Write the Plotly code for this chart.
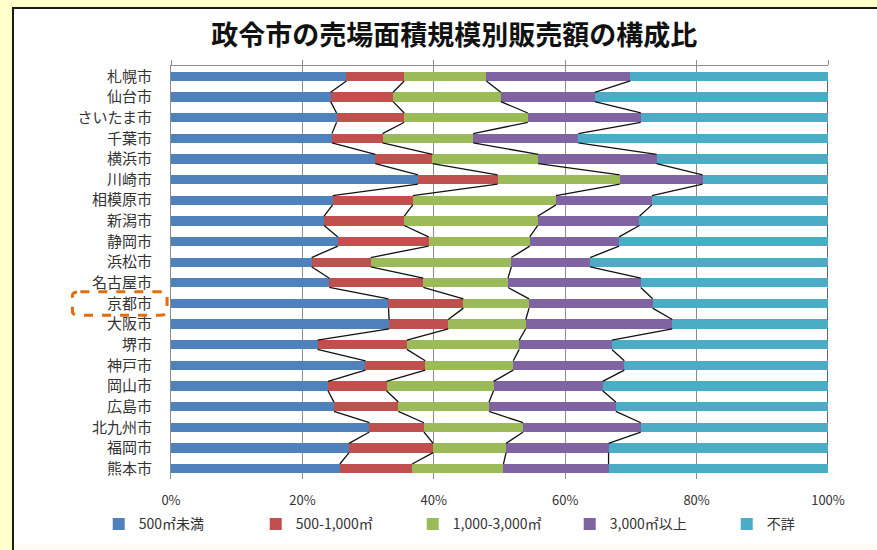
import numpy as np
import plotly.graph_objects as go

cities = ["札幌市", "仙台市", "さいたま市", "千葉市", "横浜市", "川崎市", "相模原市", "新潟市",
          "静岡市", "浜松市", "名古屋市", "京都市", "大阪市", "堺市", "神戸市", "岡山市",
          "広島市", "北九州市", "福岡市", "熊本市"]

series_names = ["500㎡未満", "500-1,000㎡", "1,000-3,000㎡", "3,000㎡以上", "不詳"]

under_500 = [26.7, 24.3, 25.2, 24.5, 31.1, 37.6, 24.6, 23.3, 25.4, 21.4,
             24.1, 33.1, 33.2, 22.3, 29.6, 23.9, 24.8, 30.2, 27.1, 25.7]
s500_1000 = [8.8, 9.5, 10.3, 7.7, 8.7, 12.1, 12.2, 12.2, 13.8, 9.0,
             14.3, 11.4, 9.0, 13.6, 9.1, 8.9, 9.8, 8.3, 12.8, 11.0]
s1000_3000 = [12.5, 16.4, 18.8, 13.8, 16.1, 18.6, 21.8, 20.3, 15.4, 21.4,
              12.9, 10.0, 11.8, 17.1, 13.4, 16.3, 13.8, 15.1, 11.1, 13.9]
over_3000 = [21.9, 14.3, 17.2, 16.0, 18.0, 12.6, 14.6, 15.5, 13.6, 12.0,
             20.2, 18.8, 22.3, 14.1, 16.9, 16.6, 19.3, 17.9, 15.6, 16.0]
unknown = [30.1, 35.5, 28.5, 38.0, 26.1, 19.1, 26.8, 28.7, 31.8, 36.2,
           28.5, 26.7, 23.7, 32.9, 31.0, 34.3, 32.3, 28.5, 33.4, 33.4]

x_ticks = [0, 20, 40, 60, 80, 100]
highlight_city = "京都市"

colors = ["#4F81BD", "#C0504D", "#9BBB59", "#8064A2", "#4BACC6"]
FONT = "Noto Sans CJK JP"
BAR_W = 0.45

series = [under_500, s500_1000, s1000_3000, over_3000, unknown]
ypos = list(range(len(cities)))

fig = go.Figure()
for name, vals, col in zip(series_names, series, colors):
    fig.add_trace(go.Bar(
        y=ypos, x=vals, name=name, orientation="h", width=BAR_W,
        marker=dict(color=col, line=dict(width=0)),
    ))

# Series lines connecting the segment boundaries between adjacent bars
cum = np.cumsum(np.array(series), axis=0)
for k in range(cum.shape[0]):
    xs, ys = [], []
    for i in range(len(cities) - 1):
        xs += [cum[k][i], cum[k][i + 1], None]
        ys += [i + BAR_W / 2, i + 1 - BAR_W / 2, None]
    fig.add_trace(go.Scatter(
        x=xs, y=ys, mode="lines", xaxis="x2", yaxis="y",
        line=dict(color="#111111", width=1.3), showlegend=False, hoverinfo="skip",
    ))

# Highlight box around the emphasised city
hi = cities.index(highlight_city)
x0, x1 = -0.150, -0.006
y0, y1 = hi - 0.57, hi + 0.57
r = 0.012
ry = 0.17
path = (f"M {x0 + r} {y0} L {x1 - r} {y0} Q {x1} {y0} {x1} {y0 + ry} "
        f"L {x1} {y1 - ry} Q {x1} {y1} {x1 - r} {y1} L {x0 + r} {y1} "
        f"Q {x0} {y1} {x0} {y1 - ry} L {x0} {y0 + ry} Q {x0} {y0} {x0 + r} {y0} Z")

fig.update_layout(
    width=877, height=550,
    margin=dict(l=171, r=49, t=66, b=71, autoexpand=False),
    paper_bgcolor="#FFFFCC",
    plot_bgcolor="rgba(0,0,0,0)",
    barmode="stack",
    bargap=0,
    font=dict(family=FONT, color="#222222"),
    title=dict(text="政令市の売場面積規模別販売額の構成比", x=0.518, xanchor="center",
               y=0.935, yanchor="middle",
               font=dict(family=FONT, size=27, color="#111111", weight="bold")),
    xaxis=dict(range=[0, 100], tickvals=x_ticks, ticktext=[f"{v}%" for v in x_ticks],
               showgrid=True, gridcolor="#8C8C8C", gridwidth=1, zeroline=False,
               showline=False, ticks="", ticklabelstandoff=12, automargin=False,
               tickfont=dict(size=13, color="#333333", family=FONT)),
    xaxis2=dict(overlaying="x", matches="x", side="top", showline=True, linecolor="#8C8C8C",
                linewidth=1, ticks="outside", ticklen=5, tickcolor="#8C8C8C", automargin=False,
                tickvals=x_ticks, showticklabels=False, showgrid=False, zeroline=False),
    yaxis=dict(range=[len(cities) - 0.5, -0.5], tickvals=ypos, ticktext=cities,
               showline=True, linecolor="#8C8C8C", linewidth=1, showgrid=False,
               zeroline=False, ticks="", ticklabelstandoff=15, automargin=False,
               tickfont=dict(size=15, color="#333333", family=FONT)),
    legend=dict(orientation="h", x=-0.11, xanchor="left", y=-0.11, yanchor="middle",
                font=dict(size=14, color="#333333", family=FONT), bgcolor="rgba(0,0,0,0)",
                traceorder="normal", itemwidth=30, entrywidth=112),
    shapes=[
        dict(type="rect", xref="paper", yref="paper", x0=-0.2405, x1=1.09, y0=-0.25, y1=1.1404,
             fillcolor="white", line=dict(color="#1a1a1a", width=2), layer="below"),
        dict(type="rect", xref="paper", yref="paper", x0=-0.2390, x1=1.09, y0=-0.25, y1=-0.1575,
             fillcolor="#FDFCF3", line=dict(width=0), layer="below"),
        dict(type="path", xref="paper", yref="y", path=path,
             line=dict(color="#E46C0A", width=3, dash="dash"), fillcolor="rgba(0,0,0,0)"),
    ],
)

fig.write_html("out.html", config={"displayModeBar": False},
               post_script="document.body.style.margin='0';document.body.style.background='#FFFFCC';")
